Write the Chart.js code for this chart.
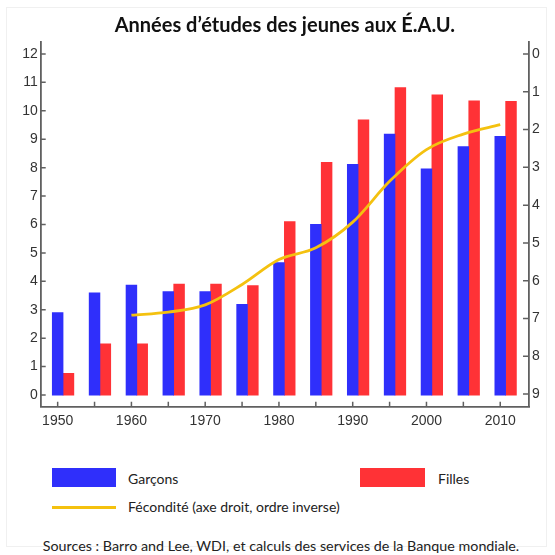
<!DOCTYPE html>
<html><head><meta charset="utf-8">
<script src="https://cdn.jsdelivr.net/npm/chart.js@4.4.1/dist/chart.umd.min.js"></script>
<style>
html,body{margin:0;padding:0;background:#fff;}
#wrap{position:relative;width:555px;height:555px;overflow:hidden;background:#fff;}
#frame{position:absolute;left:6px;top:7px;width:541px;height:540px;border:1px solid #f0f0f0;box-sizing:border-box;}
#c{position:absolute;left:0;top:0;}
.item{position:absolute;font-family:Lato,"Open Sans",sans-serif;font-size:14px;color:#222;white-space:nowrap;line-height:16px;}
.sw{position:absolute;}
#i1 .sw{left:52px;top:468px;width:64px;height:19px;}
#i1 .tx{position:absolute;left:128px;top:471px;}
#i2 .sw{left:360px;top:468px;width:65px;height:19px;}
#i2 .tx{position:absolute;left:438px;top:471px;}
#i3 .sw{left:52px;top:506px;width:64px;height:3px;}
#i3 .tx{position:absolute;left:128px;top:499px;}
#src{position:absolute;left:0;width:562px;top:537px;text-align:center;font-family:Lato,"Open Sans",sans-serif;font-size:14.3px;color:#222;white-space:nowrap;}
</style></head><body>
<div id="wrap">
<div id="frame"></div>
<canvas id="c" width="555" height="440"></canvas>
<div id="legend"></div>
<div id="src">Sources : Barro and Lee, WDI, et calculs des services de la Banque mondiale.</div>
</div>
<script>
const years = [1950,1955,1960,1965,1970,1975,1980,1985,1990,1995,2000,2005,2010];
const garcons = [2.9,3.6,3.87,3.64,3.64,3.19,4.66,6.01,8.12,9.18,7.96,8.74,9.1];
const filles = [0.76,1.8,1.8,3.9,3.9,3.85,6.1,8.19,9.68,10.82,10.56,10.35,10.33];
const fecondite = [null,null,6.91,6.83,6.64,6.1,5.44,5.13,4.45,3.37,2.53,2.12,1.87];
const leftTicks = [0,1,2,3,4,5,6,7,8,9,10,11,12];
const rightTicks = [0,1,2,3,4,5,6,7,8,9];
const xTickLabels = [1950,1960,1970,1980,1990,2000,2010];
const seriesNames = ['Garçons','Filles','Fécondité (axe droit, ordre inverse)'];
const titleText = 'Années d’études des jeunes aux É.A.U.';

const BLUE = '#2f2ffb', RED = '#ff3236', GOLD = '#f4c10f', AXIS = '#606060';
const TF = {family:'"Liberation Sans", Arial, sans-serif', size:14};

const pts = arr => years.map((x,i)=>({x:x, y:arr[i]}));

const innerTicks = {
  id:'innerTicks',
  afterDatasetsDraw(chart){
    const {ctx, chartArea:a, scales:{x,y,y2}} = chart;
    ctx.save(); ctx.strokeStyle = AXIS; ctx.lineWidth = 1.5; ctx.beginPath();
    leftTicks.forEach(v=>{const p=y.getPixelForValue(v); ctx.moveTo(a.left,p); ctx.lineTo(a.left+5,p);});
    rightTicks.forEach(v=>{const p=y2.getPixelForValue(v); ctx.moveTo(a.right,p); ctx.lineTo(a.right-6,p);});
    years.forEach(v=>{const p=x.getPixelForValue(v); ctx.moveTo(p,a.bottom); ctx.lineTo(p,a.bottom-5);});
    ctx.stroke(); ctx.restore();
  }
};

const chart = new Chart(document.getElementById('c'), {
  type:'bar',
  data:{
    datasets:[
      {label:'_spacer', data:[], backgroundColor:'rgba(0,0,0,0)', order:1, yAxisID:'y'},
      {label:seriesNames[0], data:pts(garcons), backgroundColor:BLUE, order:1, yAxisID:'y', barThickness:10.8},
      {label:seriesNames[1], data:pts(filles), backgroundColor:RED, order:1, yAxisID:'y', barThickness:10.8},
      {type:'line', label:seriesNames[2], data:pts(fecondite), borderColor:GOLD, borderWidth:2.8, pointRadius:0, tension:0.4, cubicInterpolationMode:'monotone', order:0, yAxisID:'y2', spanGaps:false}
    ]
  },
  options:{
    responsive:false, animation:false, devicePixelRatio:1,
    layout:{padding:{top:0,left:0,right:0,bottom:0}},
    plugins:{
      legend:{display:false}, tooltip:{enabled:false},
      title:{display:true, fullSize:false, text:titleText, color:'#111', font:{family:'Lato, "Open Sans", sans-serif', size:20, weight:'bold'}, padding:{top:14,bottom:4}}
    },
    scales:{
      x:{type:'linear', offset:false, min:1947.7, max:2013.9, grid:{display:false, drawTicks:false, offset:false}, border:{display:true,color:AXIS,width:1.8},
         afterBuildTicks:s=>{s.ticks = xTickLabels.map(v=>({value:v}));},
         afterFit:s=>{s.height = 33.3;},
         ticks:{color:'#333', font:TF, padding:6, maxRotation:0, callback:v=>String(v)}},
      y:{position:'left', min:-0.41, max:12.42, grid:{display:false, drawTicks:false}, border:{display:true,color:AXIS,width:1.8},
         afterBuildTicks:s=>{s.ticks = leftTicks.map(v=>({value:v}));},
         afterFit:s=>{s.width = 40.7;},
         ticks:{color:'#333', font:TF, padding:3}},
      y2:{position:'right', reverse:true, min:-0.317, max:9.333, grid:{display:false, drawTicks:false}, border:{display:true,color:AXIS,width:1.8},
         afterBuildTicks:s=>{s.ticks = rightTicks.map(v=>({value:v}));},
         afterFit:s=>{s.width = 26;},
         ticks:{color:'#333', font:TF, padding:3}}
    }
  },
  plugins:[innerTicks]
});

// HTML legend built from the chart's datasets
const legend = document.getElementById('legend');
chart.data.datasets.filter(d=>!d.label.startsWith('_')).forEach((d,i)=>{
  const it = document.createElement('div'); it.className='item'; it.id='i'+(i+1);
  const sw = document.createElement('div'); sw.className='sw';
  sw.style.background = d.type==='line' ? d.borderColor : d.backgroundColor;
  const tx = document.createElement('span'); tx.className='tx'; tx.textContent = d.label;
  it.appendChild(sw); it.appendChild(tx); legend.appendChild(it);
});
</script>
</body></html>
